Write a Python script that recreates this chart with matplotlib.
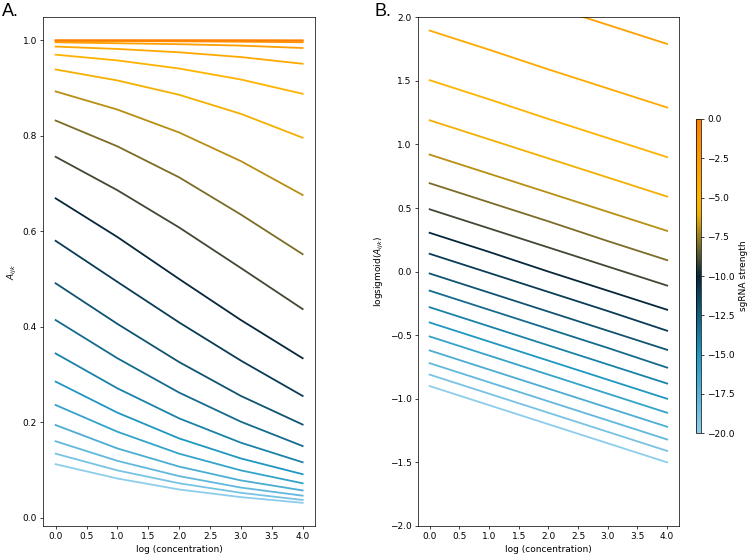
import matplotlib
matplotlib.use('Agg')
import matplotlib.pyplot as plt
import numpy as np
from matplotlib.colors import LinearSegmentedColormap, Normalize
from matplotlib.cm import ScalarMappable

# log concentration positions
log_conc = [0, 1, 2, 3, 4]

# sgRNA strength of each line (bottom -> top)
strengths = list(range(-20, 1))

# panel A: A_ijk per strength, read at log_conc 0..4
a_values = [
    [0.112, 0.082, 0.059, 0.043, 0.031],
    [0.134, 0.099, 0.072, 0.052, 0.037],
    [0.160, 0.119, 0.087, 0.063, 0.046],
    [0.194, 0.145, 0.107, 0.078, 0.057],
    [0.236, 0.180, 0.134, 0.099, 0.072],
    [0.285, 0.220, 0.166, 0.124, 0.091],
    [0.344, 0.271, 0.208, 0.157, 0.116],
    [0.414, 0.334, 0.262, 0.201, 0.150],
    [0.491, 0.406, 0.326, 0.255, 0.195],
    [0.580, 0.494, 0.409, 0.329, 0.255],
    [0.669, 0.588, 0.500, 0.414, 0.334],
    [0.756, 0.686, 0.608, 0.523, 0.437],
    [0.832, 0.778, 0.713, 0.635, 0.552],
    [0.893, 0.855, 0.807, 0.747, 0.676],
    [0.939, 0.916, 0.886, 0.846, 0.796],
    [0.970, 0.958, 0.941, 0.918, 0.888],
    [0.987, 0.982, 0.975, 0.965, 0.951],
    [0.996, 0.994, 0.992, 0.989, 0.984],
    [0.999, 0.9986, 0.998, 0.9972, 0.996],
    [0.9998, 0.9998, 0.9997, 0.9996, 0.9994],
    [1.0, 1.0, 1.0, 1.0, 0.9999],
]

# panel B: logsigmoid(A_ijk) per strength, read at log_conc 0..4
b_values = [
    [-0.90, -1.05, -1.20, -1.35, -1.50],
    [-0.81, -0.96, -1.11, -1.26, -1.41],
    [-0.72, -0.87, -1.02, -1.17, -1.32],
    [-0.62, -0.77, -0.92, -1.07, -1.22],
    [-0.51, -0.66, -0.81, -0.96, -1.11],
    [-0.40, -0.55, -0.70, -0.85, -1.00],
    [-0.28, -0.43, -0.58, -0.73, -0.88],
    [-0.15, -0.30, -0.45, -0.60, -0.755],
    [-0.015, -0.165, -0.315, -0.465, -0.615],
    [0.14, -0.01, -0.16, -0.31, -0.465],
    [0.305, 0.155, 0.0, -0.15, -0.30],
    [0.49, 0.34, 0.19, 0.04, -0.11],
    [0.695, 0.545, 0.395, 0.24, 0.09],
    [0.92, 0.77, 0.62, 0.47, 0.32],
    [1.19, 1.04, 0.89, 0.74, 0.59],
    [1.505, 1.355, 1.20, 1.05, 0.90],
    [1.895, 1.745, 1.59, 1.44, 1.29],
    [2.39, 2.24, 2.09, 1.94, 1.79],
    [3.0, 2.85, 2.70, 2.55, 2.40],
    [3.8, 3.65, 3.50, 3.35, 3.20],
    [4.9, 4.75, 4.60, 4.45, 4.30],
]

cmap = LinearSegmentedColormap.from_list('sgrna', [
    (0.0, '#8dcdec'),
    (0.25, '#1e98c2'),
    (0.5, '#05263b'),
    (0.575, '#5e5c30'),
    (0.7, '#f2b000'),
    (0.75, '#ffb400'),
    (1.0, '#ff7f00'),
])
norm = Normalize(vmin=-20, vmax=0)

plt.rcParams['font.family'] = ['DejaVu Sans']

fig = plt.figure(figsize=(750 / 65, 556 / 65), dpi=65)
ax1 = fig.add_axes([0.0577, 0.054, 0.3623, 0.915])
ax2 = fig.add_axes([0.557, 0.054, 0.3484, 0.915])
cax = fig.add_axes([0.928, 0.221, 0.0067, 0.565])

for s, ys in zip(strengths, a_values):
    ax1.plot(log_conc, ys, color=cmap(norm(s)), lw=2)
for s, ys in zip(strengths, b_values):
    ax2.plot(log_conc, ys, color=cmap(norm(s)), lw=2)

ax1.set_xlabel('log (concentration)')
ax1.set_ylabel('$A_{ijk}$')
ax1.set_xticks(np.arange(0, 4.01, 0.5))

ax2.set_ylim(-2, 2)
ax2.set_xlabel('log (concentration)')
ax2.set_ylabel('logsigmoid($A_{ijk}$)')
ax2.set_xticks(np.arange(0, 4.01, 0.5))

sm = ScalarMappable(norm=norm, cmap=cmap)
cb = fig.colorbar(sm, cax=cax)
cb.set_label('sgRNA strength')

fig.text(0.003, 0.995, 'A.', fontsize=20, va='top', ha='left', family='Liberation Sans')
fig.text(0.499, 0.995, 'B.', fontsize=20, va='top', ha='left', family='Liberation Sans')

fig.savefig('out.png', dpi=65)
